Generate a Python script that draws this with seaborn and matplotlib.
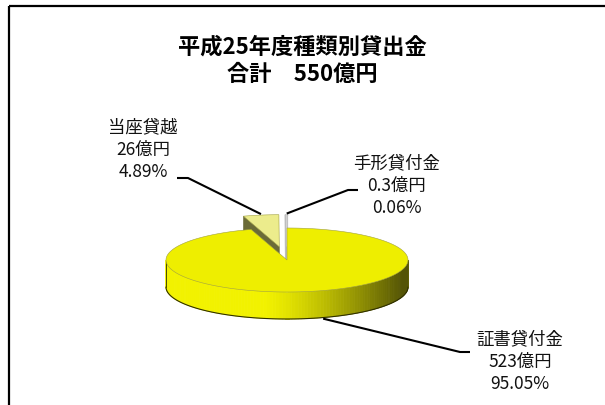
import numpy as np
import matplotlib
matplotlib.use("Agg")
import matplotlib.pyplot as plt
import seaborn as sns
from matplotlib.patches import Polygon

# ---- data ----
categories = ["証書貸付金", "当座貸越", "手形貸付金"]
amounts = [523, 26, 0.3]            # 億円
amount_labels = ["523億円", "26億円", "0.3億円"]
percents = [95.05, 4.89, 0.06]
title_lines = ["平成25年度種類別貸出金", "合計　550億円"]

# ---- style ----
sns.set_theme(style="white")
plt.rcParams['font.family'] = ['Noto Sans CJK JP', 'DejaVu Sans']

top_colors = ["#eeee00", "#ecec8c", "#d4d4d4"]
face_colors = ["#8a8a00", "#6b6b38", "#bdbdbd"]
explode = [0.0, 0.42, 0.42]

fig = plt.figure(figsize=(6.05, 4.05), dpi=100)
ax = fig.add_axes([0, 0, 1, 1])
ax.set_xlim(0, 605)
ax.set_ylim(405, 0)
ax.axis("off")

# frame of chart area
ax.plot([8.5, 606], [5.5, 5.5], color="black", lw=1.6, solid_capstyle="butt")
ax.plot([8.5, 8.5], [5.5, 406], color="black", lw=1.6, solid_capstyle="butt")

# ---- 3D pie geometry ----
cx, cy = 287.0, 260.0
a, b = 121.0, 32.0
depth = 27.0

vals = np.array(amounts, dtype=float)
frac = vals / vals.sum()
ends = np.cumsum(frac) * 360.0
starts = ends - frac * 360.0


def pt(theta_deg, ox, oy, r=1.0, dz=0.0):
    t = np.radians(theta_deg)
    return ox + r * a * np.sin(t), oy - r * b * np.cos(t) + dz


def slice_offset(i):
    mid = np.radians((starts[i] + ends[i]) / 2)
    return cx + explode[i] * a * np.sin(mid), cy - explode[i] * b * np.cos(mid)


bright = np.array([0.95, 0.95, 0.0])
dark = np.array([0.33, 0.33, 0.02])


def draw_slice(i):
    ox, oy = slice_offset(i)
    s, e = starts[i], ends[i]
    # visible radial face at start angle (faces viewer when on the back-left)
    if 180 < s < 360:
        p0 = (ox, oy)
        p1 = pt(s, ox, oy)
        quad = [p0, p1, (p1[0], p1[1] + depth), (ox, oy + depth)]
        lw = 2.5 if frac[i] < 0.01 else 0.4
        ax.add_patch(Polygon(quad, closed=True, facecolor=face_colors[i],
                             edgecolor=face_colors[i], lw=lw, zorder=2))
        if frac[i] < 0.01:
            ax.plot([ox + 2.2, ox + 2.2], [p1[1] + 1, oy + depth],
                    color="white", lw=1.2, zorder=2)
    # outer side (front half of the ellipse)
    lo, hi = max(s, 90), min(e, 270)
    if hi > lo:
        th = np.linspace(lo, hi, 120)
        for t0, t1 in zip(th[:-1], th[1:]):
            tm = np.radians((t0 + t1) / 2)
            f = np.clip((np.sin(tm) + 0.2) / 1.15, 0, 1) ** 1.3
            col = bright * (1 - f) + dark * f
            q0, q1 = pt(t0, ox, oy), pt(t1, ox, oy)
            quad = [q0, q1, (q1[0], q1[1] + depth), (q0[0], q0[1] + depth)]
            ax.add_patch(Polygon(quad, closed=True, facecolor=col,
                                 edgecolor=col, lw=0.6, zorder=3))
        xs, ys = zip(*[pt(t, ox, oy, dz=depth) for t in th])
        ax.plot(xs, ys, color="#303000", lw=0.8, zorder=4)
        ax.plot([xs[0], xs[0]], [ys[0] - depth, ys[0]], color="#606000", lw=0.5, zorder=4)
        ax.plot([xs[-1], xs[-1]], [ys[-1] - depth, ys[-1]], color="#303000", lw=0.6, zorder=4)
    # top face
    th = np.linspace(s, e, max(3, int((e - s) * 2)))
    poly = [(ox, oy)] + [pt(t, ox, oy) for t in th]
    ax.add_patch(Polygon(poly, closed=True, facecolor=top_colors[i],
                         edgecolor="#a0a040" if frac[i] > 0.01 else top_colors[i],
                         lw=0.4, zorder=5 if frac[i] > 0.5 else 2.5))


# back (exploded) slices first, main slice last
for i in [2, 1, 0]:
    draw_slice(i)

# ---- title ----
ax.text(302, 47, title_lines[0], ha="center", va="center", fontsize=16,
        fontweight="bold", color="black", zorder=10)
ax.text(302, 74, title_lines[1], ha="center", va="center", fontsize=16,
        fontweight="bold", color="black", zorder=10)

# ---- labels with leader lines ----
label_pos = [(520, 362), (143, 150), (397, 186)]
leader_pts = [[(460, 352), (470, 352)],
              [(188, 178), (177, 178)],
              [(348, 190), (358, 190)]]

for i in range(len(categories)):
    ox, oy = slice_offset(i)
    mid = (starts[i] + ends[i]) / 2
    if 90 < mid < 270:
        anc = pt(mid, ox, oy, dz=depth)
        anc = (anc[0] + 18, anc[1])
    else:
        anc = pt(mid, ox, oy)
        anc = (anc[0], anc[1] - 1)
    xs = [anc[0]] + [p[0] for p in leader_pts[i]]
    ys = [anc[1]] + [p[1] for p in leader_pts[i]]
    ax.plot(xs, ys, color="black", lw=1.5, zorder=9, solid_capstyle="butt")
    txt = f"{categories[i]}\n{amount_labels[i]}\n{percents[i]:.2f}%"
    ax.text(label_pos[i][0], label_pos[i][1], txt, ha="center", va="center",
            fontsize=12.5, linespacing=1.32, color="#111111", zorder=10)

fig.savefig("out.png", dpi=100)
